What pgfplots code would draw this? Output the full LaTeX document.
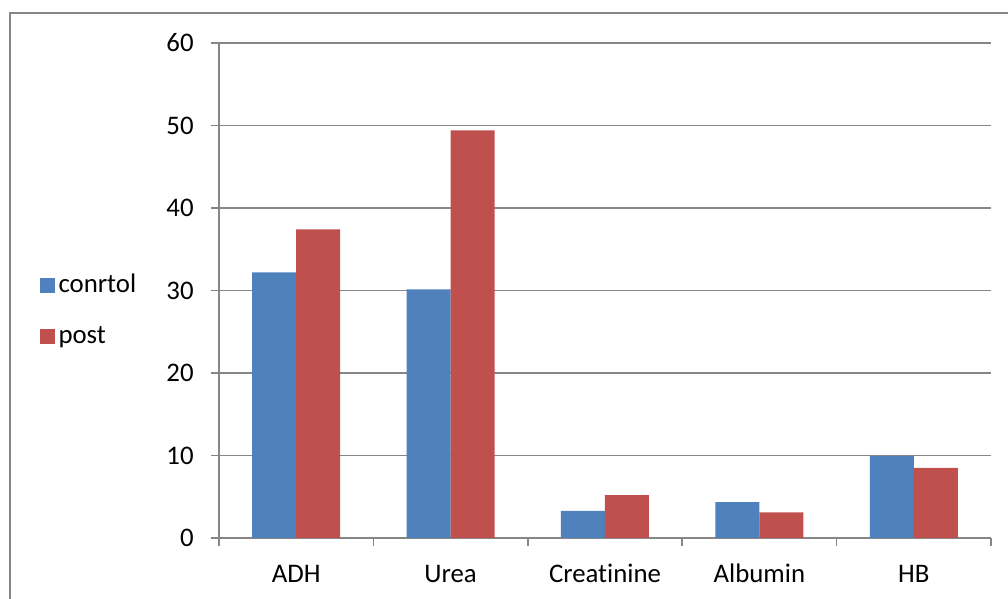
\documentclass[border=0pt]{standalone}
\usepackage{fontspec}
\setmainfont{Carlito}[Ligatures=NoCommon]
\usepackage{pgfplots}
\pgfplotsset{compat=1.18}
\definecolor{cblue}{HTML}{4F81BD}
\definecolor{cred}{HTML}{C0504D}
\definecolor{cgray}{HTML}{868686}
\begin{document}
\fontsize{13.4}{16}\selectfont
\begin{tikzpicture}
\useasboundingbox (0,0) rectangle (504pt,299.5pt);
\draw[cgray, line width=0.75pt] (5pt,-2pt) -- (5pt,293pt) -- (506pt,293pt);
\begin{axis}[
 at={(109.5pt,30.5pt)}, anchor=south west,
 scale only axis, width=386pt, height=247.5pt,
 ymin=0, ymax=60, ytick={0,10,...,60},
 xmin=-0.5, xmax=4.5,
 xtick={0,...,4}, xticklabels={ADH,Urea,Creatinine,Albumin,HB},
 minor xtick={-0.5,0.5,...,4.5},
 ybar=0pt, bar width=22pt,
 axis lines*=left,
 axis line style={cgray, line width=0.75pt},
 ymajorgrids, grid style={cgray, line width=0.6pt},
 tick align=outside,
 major tick length=4pt, minor tick length=4pt,
 tick style={cgray, line width=0.75pt},
 major x tick style={draw=none},
 /pgf/number format/assume math mode=true,
 ticklabel style={font=\fontsize{13.4}{16}\selectfont, text=black},
 yticklabel style={xshift=-4pt},
 xticklabel style={text height=9pt, text depth=3pt, yshift=-4.5pt},
 legend style={draw=none, fill=none, at={(-0.233,0.459)}, anchor=west, inner sep=0pt,
   row sep=10.8pt, font=\fontsize{13.4}{16}\selectfont},
 legend cell align=left,
 legend image code/.code={\fill[#1] (0pt,-3.75pt) rectangle (7.5pt,3.75pt);},
]
\addplot[fill=cblue, draw=none] coordinates {(0,32.2) (1,30.15) (2,3.3) (3,4.35) (4,9.95)};
\addplot[fill=cred, draw=none] coordinates {(0,37.4) (1,49.4) (2,5.2) (3,3.1) (4,8.5)};
\legend{conrtol,post}
\end{axis}
\end{tikzpicture}
\end{document}
